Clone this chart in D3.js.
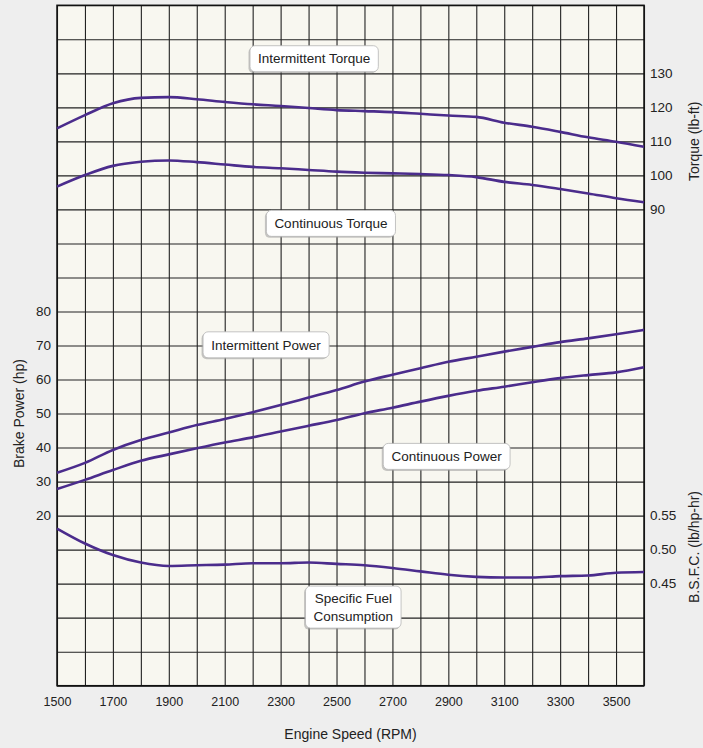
<!DOCTYPE html>
<html lang="en">
  <head>
    <meta charset="utf-8">
    <title>Engine Performance</title>
    <script src="https://d3js.org/d3.v7.min.js"></script>
    <style>
      body { margin: 0; background: #eeeeee; }
      svg { display: block; font-family: "Liberation Sans", Arial, sans-serif; }
    </style>
  </head>
  <body>
    <script>
      const rpm = [1500, 1600, 1700, 1800, 1900, 2000, 2100, 2200, 2300, 2400, 2500,
                   2600, 2700, 2800, 2900, 3000, 3100, 3200, 3300, 3400, 3500, 3600];
      const intermittentTorque = [113.8, 117.7, 121.2, 122.8, 123.0, 122.4, 121.6, 120.9, 120.4, 119.8, 119.2,
                                  118.9, 118.6, 118.1, 117.6, 117.2, 115.5, 114.3, 112.8, 111.2, 109.9, 108.4];
      const continuousTorque = [96.7, 100.1, 102.8, 104.0, 104.4, 103.9, 103.2, 102.5, 102.1, 101.6, 101.1,
                                100.8, 100.6, 100.4, 100.1, 99.5, 98.1, 97.2, 96.0, 94.7, 93.3, 92.1];
      const intermittentPower = [32.6, 35.5, 39.3, 42.2, 44.4, 46.6, 48.4, 50.4, 52.5, 54.7, 56.9,
                                 59.4, 61.4, 63.3, 65.2, 66.7, 68.2, 69.6, 71.0, 72.1, 73.3, 74.6];
      const continuousPower = [27.8, 30.5, 33.4, 36.1, 38.0, 39.8, 41.5, 43.0, 44.7, 46.4, 48.1,
                               50.1, 51.7, 53.5, 55.2, 56.7, 57.9, 59.2, 60.4, 61.3, 62.1, 63.6];
      const bsfc = [0.531, 0.509, 0.492, 0.481, 0.476, 0.477, 0.478, 0.480, 0.480, 0.481, 0.479,
                    0.477, 0.473, 0.468, 0.463, 0.460, 0.459, 0.459, 0.461, 0.462, 0.466, 0.467];

      const rpmTicks = [1500, 1700, 1900, 2100, 2300, 2500, 2700, 2900, 3100, 3300, 3500];
      const powerTicks = [20, 30, 40, 50, 60, 70, 80];
      const torqueTicks = [90, 100, 110, 120, 130];
      const bsfcTicks = [0.45, 0.50, 0.55];
      const curveLabels = [["Intermittent Torque"], ["Continuous Torque"], ["Intermittent Power"],
                           ["Continuous Power"], ["Specific Fuel", "Consumption"]];

      const w = 703;
      const h = 748;
      const plotLeft = 57, plotRight = 644, plotTop = 5.3, plotBottom = 685.7;
      const lineColor = '#4b2c8c';
      const textColor = '#222';

      const x = d3.scaleLinear().domain([1500, 3600]).range([plotLeft, plotRight]);
      // one grid row = 10 hp = 10 lb-ft = 0.05 lb/hp-hr
      const yPower = d3.scaleLinear().domain([-30, 170]).range([plotBottom, plotTop]);
      const yTorque = d3.scaleLinear().domain([-50, 150]).range([plotBottom, plotTop]);
      const yBsfc = d3.scaleLinear().domain([0.30, 1.30]).range([plotBottom, plotTop]);

      const svg = d3.select('body')
        .append('svg')
        .attr('width', w)
        .attr('height', h);

      svg.append('rect')
        .attr('x', plotLeft)
        .attr('y', plotTop)
        .attr('width', plotRight - plotLeft)
        .attr('height', plotBottom - plotTop)
        .attr('fill', '#f8f7f0');

      // grid
      svg.append('g')
        .attr('class', 'grid')
        .attr('transform', 'translate(0,' + plotBottom + ')')
        .call(d3.axisBottom(x).tickValues(d3.range(1500, 3601, 100)).tickSize(-(plotBottom - plotTop)).tickFormat(''))
      svg.append('g')
        .attr('class', 'grid')
        .attr('transform', 'translate(' + plotLeft + ',0)')
        .call(d3.axisLeft(yPower).tickValues(d3.range(-30, 171, 10)).tickSize(-(plotRight - plotLeft)).tickFormat(''))
      svg.selectAll('.grid .domain').remove();
      svg.selectAll('.grid line')
        .attr('stroke', '#222')
        .attr('stroke-width', 1.1);

      svg.append('rect')
        .attr('x', plotLeft)
        .attr('y', plotTop)
        .attr('width', plotRight - plotLeft)
        .attr('height', plotBottom - plotTop)
        .attr('fill', 'none')
        .attr('stroke', '#111')
        .attr('stroke-width', 1.5);

      // curves
      const series = [
        { values: intermittentTorque, y: yTorque },
        { values: continuousTorque, y: yTorque },
        { values: intermittentPower, y: yPower },
        { values: continuousPower, y: yPower },
        { values: bsfc, y: yBsfc }
      ];
      series.forEach(s => {
        const line = d3.line()
          .x((d, i) => x(rpm[i]))
          .y(d => s.y(d))
          .curve(d3.curveMonotoneX);
        svg.append('path')
          .datum(s.values)
          .attr('d', line)
          .attr('fill', 'none')
          .attr('stroke', lineColor)
          .attr('stroke-width', 2.6)
          .attr('stroke-linejoin', 'round');
      });

      // axes
      const styleAxis = (g, size) => {
        g.select('.domain').remove();
        g.selectAll('text')
          .attr('fill', textColor)
          .style('font-size', size + 'px');
      };
      svg.append('g')
        .attr('transform', 'translate(0,' + plotBottom + ')')
        .call(d3.axisBottom(x).tickValues(rpmTicks).tickSize(0).tickPadding(11).tickFormat(d3.format('d')))
        .call(g => styleAxis(g, 12.5));
      svg.append('g')
        .attr('transform', 'translate(' + plotLeft + ',0)')
        .call(d3.axisLeft(yPower).tickValues(powerTicks).tickSize(0).tickPadding(6))
        .call(g => styleAxis(g, 13.5));
      svg.append('g')
        .attr('transform', 'translate(' + plotRight + ',0)')
        .call(d3.axisRight(yTorque).tickValues(torqueTicks).tickSize(0).tickPadding(6))
        .call(g => styleAxis(g, 13.5));
      svg.append('g')
        .attr('transform', 'translate(' + plotRight + ',0)')
        .call(d3.axisRight(yBsfc).tickValues(bsfcTicks).tickSize(0).tickPadding(6).tickFormat(d3.format('.2f')))
        .call(g => styleAxis(g, 13.5));

      // axis titles
      const title = (txt, tx, ty, rot) => svg.append('text')
        .attr('transform', 'translate(' + tx + ',' + ty + ') rotate(' + rot + ')')
        .attr('text-anchor', 'middle')
        .attr('dominant-baseline', 'middle')
        .attr('fill', textColor)
        .style('font-size', '14px')
        .text(txt);
      title('Engine Speed (RPM)', x(2550), 735, 0);
      title('Brake Power (hp)', 20, yPower(50), -90);
      title('Torque (lb-ft)', 695, yTorque(110), -90);
      title('B.S.F.C. (lb/hp-hr)', 695, 547, -90);

      // curve labels
      const labelAt = [[2420, 154.3], [2480, 105.9], [2248, 70.2], [2894, 37.4], [2560, -6.9]];
      curveLabels.forEach((lines, i) => {
        const cx = x(labelAt[i][0]);
        const cy = yPower(labelAt[i][1]);
        const g = svg.append('g');
        const shadow = g.append('rect');
        const box = g.append('rect');
        const t = g.append('text')
          .attr('text-anchor', 'middle')
          .attr('fill', textColor)
          .style('font-size', '13.5px');
        lines.forEach((ln, j) => {
          t.append('tspan')
            .attr('x', cx)
            .attr('y', cy + (j - (lines.length - 1) / 2) * 17.5)
            .attr('dy', '0.35em')
            .text(ln);
        });
        const bb = t.node().getBBox();
        const bw = bb.width + 16;
        const bh = lines.length > 1 ? 42 : 26;
        shadow.attr('x', cx - bw / 2 - 1.5).attr('y', cy - bh / 2 + 1.5)
          .attr('width', bw).attr('height', bh).attr('rx', 5)
          .attr('fill', '#9a9a9a').attr('opacity', 0.55);
        box.attr('x', cx - bw / 2).attr('y', cy - bh / 2)
          .attr('width', bw).attr('height', bh).attr('rx', 5)
          .attr('fill', '#fff').attr('stroke', '#b5b5b5').attr('stroke-width', 0.8);
      });
    </script>
  </body>
</html>
